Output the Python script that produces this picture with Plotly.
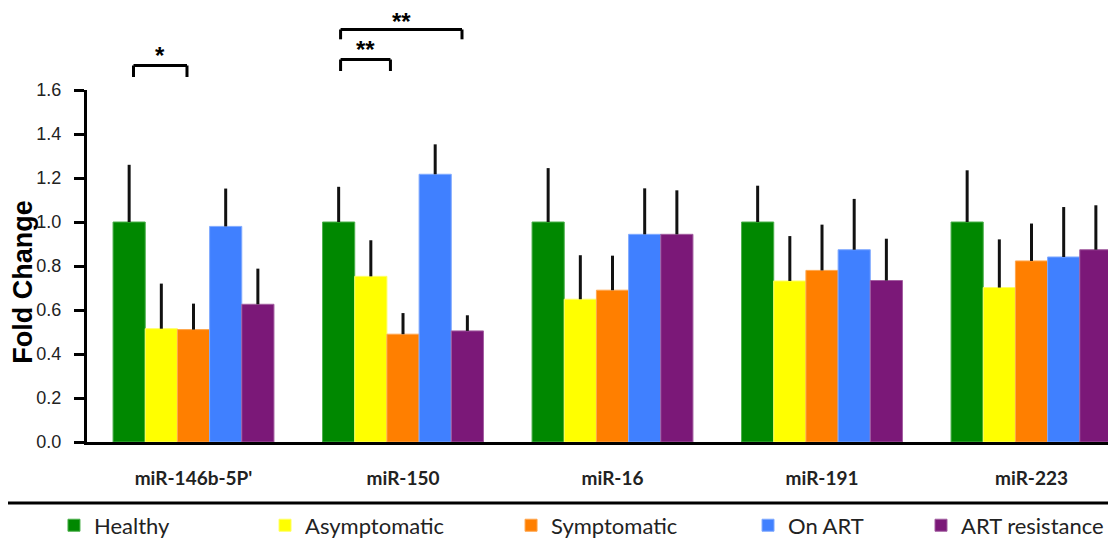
import plotly.graph_objects as go

categories = ["miR-146b-5P'", "miR-150", "miR-16", "miR-191", "miR-223"]

healthy = [1.00, 1.00, 1.00, 1.00, 1.00]
healthy_err = [0.26, 0.16, 0.245, 0.165, 0.235]

asymptomatic = [0.515, 0.753, 0.649, 0.732, 0.702]
asymptomatic_err = [0.205, 0.164, 0.20, 0.204, 0.219]

symptomatic = [0.511, 0.49, 0.69, 0.78, 0.823]
symptomatic_err = [0.118, 0.096, 0.157, 0.208, 0.17]

on_art = [0.98, 1.217, 0.944, 0.874, 0.841]
on_art_err = [0.172, 0.136, 0.209, 0.231, 0.227]

art_resistance = [0.626, 0.505, 0.944, 0.734, 0.874]
art_resistance_err = [0.162, 0.071, 0.20, 0.19, 0.202]

series_names = ["Healthy", "Asymptomatic", "Symptomatic", "On ART", "ART resistance"]
series_values = [healthy, asymptomatic, symptomatic, on_art, art_resistance]
series_errors = [healthy_err, asymptomatic_err, symptomatic_err, on_art_err, art_resistance_err]
series_colors = ["#008800", "#FFFF00", "#FF7F00", "#4080FF", "#7B1878"]
series_edges = ["#4DB04D", "#FFFF66", "#FFA64D", "#80AAFF", "#A35FA0"]

# significance brackets: (category index, left offset, right offset, top, leg bottom, label, label y)
brackets = [
    (0, -0.2865, -0.0311, 1.0696, 1.0369, "*", 1.098),
    (1, -0.298, -0.060, 1.0866, 1.054, "**", 1.114),
    (1, -0.298, 0.2816, 1.1719, 1.144, "**", 1.196),
]

legend_x = [-0.0321, 0.1730, 0.4121, 0.6424, 0.8105]

fig = go.Figure()
for i, (name, vals, errs, col, edge) in enumerate(
        zip(series_names, series_values, series_errors, series_colors, series_edges)):
    lg = "legend" if i == 0 else f"legend{i + 1}"
    fig.add_trace(go.Bar(
        name=name,
        x=categories,
        y=vals,
        marker=dict(color=col, line=dict(color=edge, width=1)),
        error_y=dict(type="data", symmetric=False, array=errs,
                     arrayminus=[0] * len(errs), color="#111111",
                     thickness=3, width=0),
        legend=lg,
    ))

shapes = []
annotations = []
for cat, lo, hi, top, bot, label, ly in brackets:
    xa = cat + lo
    xb = cat + hi
    line = dict(color="black", width=3)
    shapes.append(dict(type="line", xref="x", yref="paper", x0=xa, x1=xb, y0=top, y1=top, line=line))
    shapes.append(dict(type="line", xref="x", yref="paper", x0=xa, x1=xa, y0=bot, y1=top, line=line))
    shapes.append(dict(type="line", xref="x", yref="paper", x0=xb, x1=xb, y0=bot, y1=top, line=line))
    annotations.append(dict(x=(xa + xb) / 2, y=ly, xref="x", yref="paper", text=label,
                            showarrow=False, xanchor="center", yanchor="middle",
                            font=dict(family="Liberation Sans", size=24, color="black",
                                      weight="bold")))

# separator line above legend
shapes.append(dict(type="line", xref="paper", yref="paper", x0=-0.0846, x1=1.0,
                   y0=-0.1733, y1=-0.1733, line=dict(color="black", width=3)))

# y axis title
annotations.append(dict(x=-0.0625, y=0.4546, xref="paper", yref="paper", text="<b>Fold Change</b>",
                        textangle=-90, showarrow=False, xanchor="center", yanchor="middle",
                        font=dict(family="Liberation Sans", size=27, color="black")))

legend_common = dict(orientation="h", yanchor="middle", y=-0.237, xanchor="left",
                     bgcolor="rgba(0,0,0,0)", borderwidth=0,
                     font=dict(family="Lato", size=22, color="#222222"))
layout_legends = {}
for i, lx in enumerate(legend_x):
    key = "legend" if i == 0 else f"legend{i + 1}"
    layout_legends[key] = dict(legend_common, x=lx)

# the page body adds an 8px offset, so the figure is sized/margined to compensate
fig.update_layout(
    width=1108, height=533,
    margin=dict(l=79, r=0, t=82, b=99, autoexpand=False),
    paper_bgcolor="white", plot_bgcolor="white",
    barmode="group", bargap=0.232, bargroupgap=0,
    showlegend=True,
    xaxis=dict(type="category", range=[-0.5084, 4.4033], showline=True, linecolor="black",
               linewidth=3, ticks="", showgrid=False, zeroline=False,
               tickfont=dict(family="Lato", size=19, color="#222222", weight="bold"),
               ticklabelstandoff=17),
    yaxis=dict(range=[0, 1.6], dtick=0.2, tickformat=".1f", showline=True, linecolor="black",
               linewidth=3, ticks="outside", ticklen=10, tickwidth=2.5, tickcolor="black",
               showgrid=False, zeroline=False,
               tickfont=dict(family="Liberation Sans", size=18, color="#222222"),
               ticklabelstandoff=9),
    shapes=shapes,
    annotations=annotations,
    **layout_legends,
)

fig.write_html("out.html")
